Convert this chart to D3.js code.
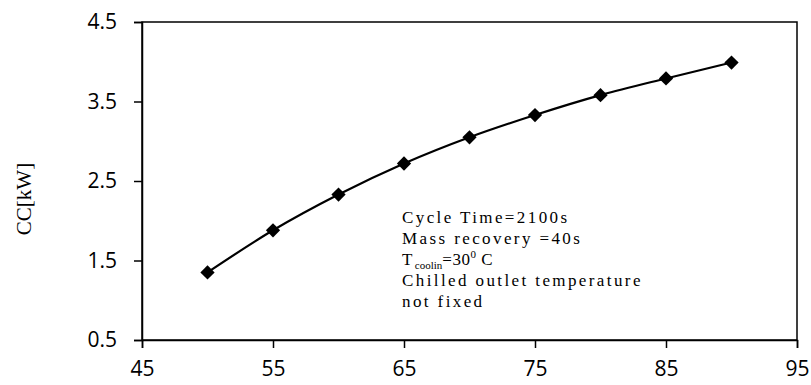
<!DOCTYPE html>
<html>
<head>
<meta charset="utf-8">
<script src="https://cdn.jsdelivr.net/npm/d3@7"></script>
<style>
  body { margin: 0; background: #fff; }
  svg { display: block; }
</style>
</head>
<body>
<div id="chart"></div>
<script>
// chart values
const xValues = [50, 55, 60, 65, 70, 75, 80, 85, 90];
const ccValues = [1.35, 1.88, 2.33, 2.72, 3.05, 3.33, 3.58, 3.79, 3.99];
const xTicks = [45, 55, 65, 75, 85, 95];
const yTicks = [0.5, 1.5, 2.5, 3.5, 4.5];
const notes = ['Cycle Time=2100s', 'Mass recovery =40s', 'Tcoolin', 'Chilled outlet temperature', 'not fixed'];

const width = 811, height = 385;
const margin = { top: 22, right: 14, bottom: 45, left: 142 };

const svg = d3.select('#chart').append('svg')
    .attr('width', width).attr('height', height);

const x = d3.scaleLinear().domain([45, 95]).range([margin.left, width - margin.right]);
const y = d3.scaleLinear().domain([0.5, 4.5]).range([height - margin.bottom, margin.top]);

const tickFont = '"Open Sans", "Noto Sans", sans-serif';

// box around plot
svg.append('rect')
    .attr('x', x(45)).attr('y', y(4.5))
    .attr('width', x(95) - x(45)).attr('height', y(0.5) - y(4.5))
    .attr('fill', 'none').attr('stroke', '#000').attr('stroke-width', 1.5);

const xAxis = svg.append('g')
    .attr('transform', `translate(0,${y(0.5)})`)
    .call(d3.axisBottom(x).tickValues(xTicks).tickSize(8).tickPadding(13).tickFormat(d3.format('d')));

const yAxis = svg.append('g')
    .attr('transform', `translate(${x(45)},0)`)
    .call(d3.axisLeft(y).tickValues(yTicks).tickSize(8).tickPadding(17).tickFormat(d3.format('.1f')));

[xAxis, yAxis].forEach(g => {
    g.select('.domain').attr('stroke-width', 1.5);
    g.selectAll('.tick line').attr('stroke-width', 1.5);
    g.selectAll('.tick text')
        .attr('font-family', tickFont).attr('font-size', 21).attr('fill', '#000');
});

// y label
svg.append('text')
    .attr('transform', `translate(31,199) rotate(-90)`)
    .attr('text-anchor', 'middle')
    .attr('font-family', '"Liberation Serif", serif')
    .attr('font-size', 21)
    .text('CC[kW]');

// curve
const pts = xValues.map((d, i) => [d, ccValues[i]]);
svg.append('path')
    .datum(pts)
    .attr('fill', 'none').attr('stroke', '#000').attr('stroke-width', 2.2)
    .attr('d', d3.line().x(d => x(d[0])).y(d => y(d[1])).curve(d3.curveMonotoneX));

svg.selectAll('.pt')
    .data(pts)
    .join('path')
    .attr('class', 'pt')
    .attr('transform', d => `translate(${x(d[0])},${y(d[1])})`)
    .attr('d', d3.symbol().type(d3.symbolDiamond2).size(130))
    .attr('fill', '#000');

// annotation
const note = svg.append('g')
    .attr('font-family', '"Liberation Serif", serif')
    .attr('font-size', 17)
    .attr('letter-spacing', 2.4);
const nx = 402, ny = 223, dy = 21;
notes.forEach((t, i) => {
    const txt = note.append('text').attr('x', nx).attr('y', ny + i * dy);
    if (t === 'Tcoolin') {
        txt.append('tspan').text('T');
        txt.append('tspan').attr('font-size', 11).attr('letter-spacing', 0).attr('dy', 4).text('coolin');
        txt.append('tspan').attr('dy', -4).attr('letter-spacing', 0.5).text('=30');
        txt.append('tspan').attr('font-size', 11).attr('dy', -7).text('0');
        txt.append('tspan').attr('dy', 7).attr('dx', 3).text('C');
    } else {
        txt.text(t);
    }
});
</script>
</body>
</html>
